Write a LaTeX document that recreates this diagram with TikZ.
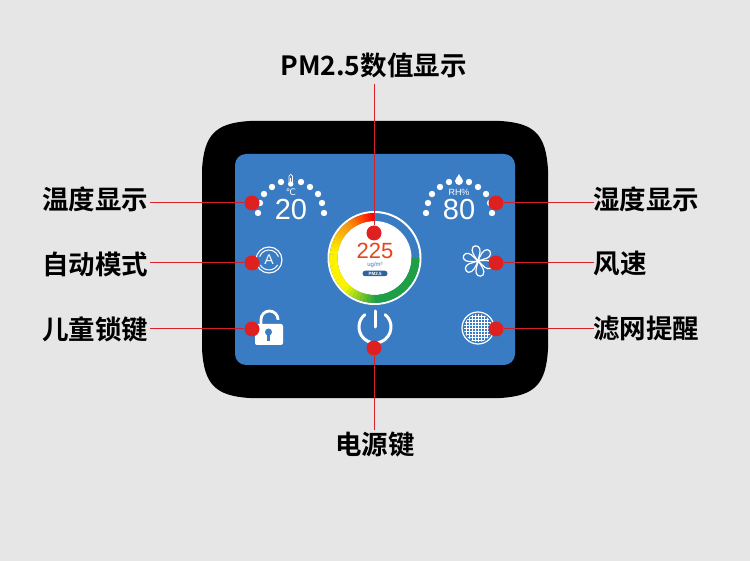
\documentclass[tikz,border=0pt]{standalone}
\usepackage{fontspec}
\setmainfont{Liberation Sans}
\newfontfamily\cjk{Noto Sans CJK SC}[BoldFont={Noto Sans CJK SC Bold}]
\newfontfamily\symb{DejaVu Sans}
\usetikzlibrary{arrows.meta}
\definecolor{pagegray}{HTML}{E6E6E6}
\definecolor{screenblue}{HTML}{3A7CC3}
\definecolor{callred}{HTML}{DF2020}
\definecolor{linered}{HTML}{D8202A}
\definecolor{digitred}{HTML}{E8431A}
\definecolor{gaugegreen}{HTML}{1E9E45}
\tikzset{
  callout/.style={circle, fill=callred, minimum size=15pt, inner sep=0pt},
  calltext/.style={font=\fontsize{26.5}{26.5}\selectfont\bfseries\cjk, text=black, inner sep=0pt},
  callline/.style={draw=linered, line width=1pt},
  bigdigit/.style={font=\fontsize{29}{29}\selectfont, text=white, inner sep=0pt},
  smallunit/.style={text=white, inner sep=0pt, font=\fontsize{9}{9}\selectfont},
}
\tikzset{
  pics/dotarc/.style={
    code = {
      \foreach \dx/\dy in {-33/10, -31/0, -27/-9, -19/-16, -10/-21, 10/-21, 19/-16, 27/-9, 31/0, 33/10}
        \fill[white] (\dx, \dy) circle (3.2);
}}}
\tikzset{
  pics/fanblade/.style={
    code = {
      \draw[white, line width=1.2pt, fill=screenblue] (0,0) .. controls (-3,-4) and (-8,-10) .. (-5,-14)
        .. controls (-2,-17) and (3,-14) .. (2,-9) .. controls (1.5,-6) and (0.5,-3) .. (0,0);
}}}
\begin{document}
\begin{tikzpicture}[x=1pt, y=-1pt]
  \useasboundingbox (0,0) rectangle (750,561);
  \fill[pagegray] (0,0) rectangle (750,561);
  % housing and screen
  \fill[black] (250,121) -- (500,121) .. controls (535,123) and (546,135) .. (548,170)
    -- (548,349) .. controls (546,384) and (535,396) .. (500,398)
    -- (250,398) .. controls (215,396) and (204,384) .. (202,349)
    -- (202,170) .. controls (204,135) and (215,123) .. (250,121) -- cycle;
  \fill[screenblue, rounded corners=11pt] (235,154) rectangle (515,365);

  % temperature
  \draw (291,203) pic{dotarc};
  \node[bigdigit] (tempvalue) at (291,210) {20};
  \fill[white] (290.7,184) circle (2.7);
  \draw[white, line width=0.7pt] (289,182) -- (289,176) arc (180:360:1.7) -- (292.4,182);
  \fill[white] (290,178) rectangle (291.4,183);
  \node[smallunit, font=\fontsize{9}{9}\selectfont\symb] (tempunit) at (291,192) {℃};

  % humidity
  \draw (459,203) pic{dotarc};
  \node[bigdigit] (humvalue) at (459,210) {80};
  \fill[white] (459,174) .. controls (460.5,177.5) and (463,178.5) .. (463,181)
    arc (0:180:4) .. controls (455,178.5) and (457.5,177.5) .. (459,174) -- cycle;
  \node[smallunit] (humunit) at (459,192) {RH\%};

  % gauge
  \fill[white] (374.5,258) circle (37);
  \draw[white, line width=2pt] (374.5,258) circle (46);
  \foreach \start/\cA/\cB/\stepang in {90/red/orange/3, 120/orange/yellow/5, 170/yellow/yellow/5, 220/yellow/gaugegreen/5, 270/gaugegreen/gaugegreen/9}
    \foreach \i in {0,...,9} {
      \pgfmathsetmacro{\angA}{\start+\i*\stepang}
      \pgfmathsetmacro{\angB}{\angA+\stepang+0.4}
      \pgfmathtruncatemacro{\pct}{\i*10}
      \draw[\cB!\pct!\cA, line width=8pt] (374.5,258) ++({-\angA}:41) arc ({-\angA}:{-\angB}:41);
    }
  \node[text=digitred, inner sep=0pt, font=\fontsize{22}{22}\selectfont] (gaugevalue) at (375,250.5) {225};
  \node[text=screenblue, inner sep=0pt, font=\fontsize{6}{6}\selectfont] (gaugeunit) at (375,265) {ug/m³};
  \node[fill=screenblue!80!black, text=white, rounded corners=2.7pt, minimum width=25pt, minimum height=5.5pt, inner sep=0pt, font=\fontsize{4.5}{4.5}\selectfont\bfseries] (gaugetag) at (375,273.5) {PM2.5};

  % auto icon
  \draw[white, line width=1.1pt] (269,260) circle (13);
  \draw[white, line width=1pt] (269,260) ++(200:10) arc (200:340:10);
  \draw[white, line width=1pt] (269,260) ++(30:10) arc (30:150:10);
  \node[text=white, inner sep=0pt, font=\fontsize{14}{14}\selectfont] (autoicon) at (269,260) {A};

  % fan icon
  \foreach \ang in {0,60,...,300}
    \draw (478,261) pic[rotate=\ang]{fanblade};

  % lock icon
  \draw[white, line width=2.8pt] (261,326) -- (261,319.5) arc (180:360:8.5) -- (278,320);
  \fill[white, rounded corners=2pt] (255,324) rectangle (283,345);
  \fill[screenblue] (268.5,332) circle (3.5);
  \fill[screenblue] (267,333) rectangle (270,341);

  % power icon
  \draw[white, line width=3pt, line cap=round] (364.7,314.7) arc (230:-50:16);
  \draw[white, line width=3pt, line cap=round] (375,311) -- (375,327);

  % filter icon
  \begin{scope}
    \clip (478,328) circle (14);
    \foreach \k in {-15,-12,...,15} {
      \draw[white, line width=0.9pt] (478+\k,312) -- (478+\k,344);
      \draw[white, line width=0.9pt] (462,328+\k) -- (494,328+\k);
    }
  \end{scope}
  \draw[white, line width=1.2pt] (478,328) circle (16);

  % labels
  \node[calltext] (pmtext) at (373.5,65) {PM2.5数值显示};
  \node[calltext] (temptext) at (95,199) {温度显示};
  \node[calltext] (autotext) at (95,264) {自动模式};
  \node[calltext] (locktext) at (95,329) {儿童锁键};
  \node[calltext] (humtext) at (646,199) {湿度显示};
  \node[calltext] (fantext) at (620,264) {风速};
  \node[calltext] (filtertext) at (646,329) {滤网提醒};
  \node[calltext] (powertext) at (375,445) {电源键};

  % callouts
  \node[callout] (pmdot) at (374,233) {};
  \node[callout] (tempdot) at (252,203) {};
  \node[callout] (autodot) at (252,263) {};
  \node[callout] (lockdot) at (252,329) {};
  \node[callout] (humdot) at (496,203) {};
  \node[callout] (fandot) at (496,263) {};
  \node[callout] (filterdot) at (496,329) {};
  \node[callout] (powerdot) at (374,348) {};

  \coordinate (pmend) at (374,84);
  \coordinate (tempend) at (150,203);
  \coordinate (autoend) at (150,263);
  \coordinate (lockend) at (150,329);
  \coordinate (humend) at (594,203);
  \coordinate (fanend) at (594,263);
  \coordinate (filterend) at (594,329);
  \coordinate (powerend) at (374,430);
  \foreach \a/\b in {pmend/pmdot, tempend/tempdot, autoend/autodot, lockend/lockdot, humend/humdot, fanend/fandot, filterend/filterdot, powerend/powerdot}
    \draw[callline] (\a) -- (\b);
\end{tikzpicture}
\end{document}
